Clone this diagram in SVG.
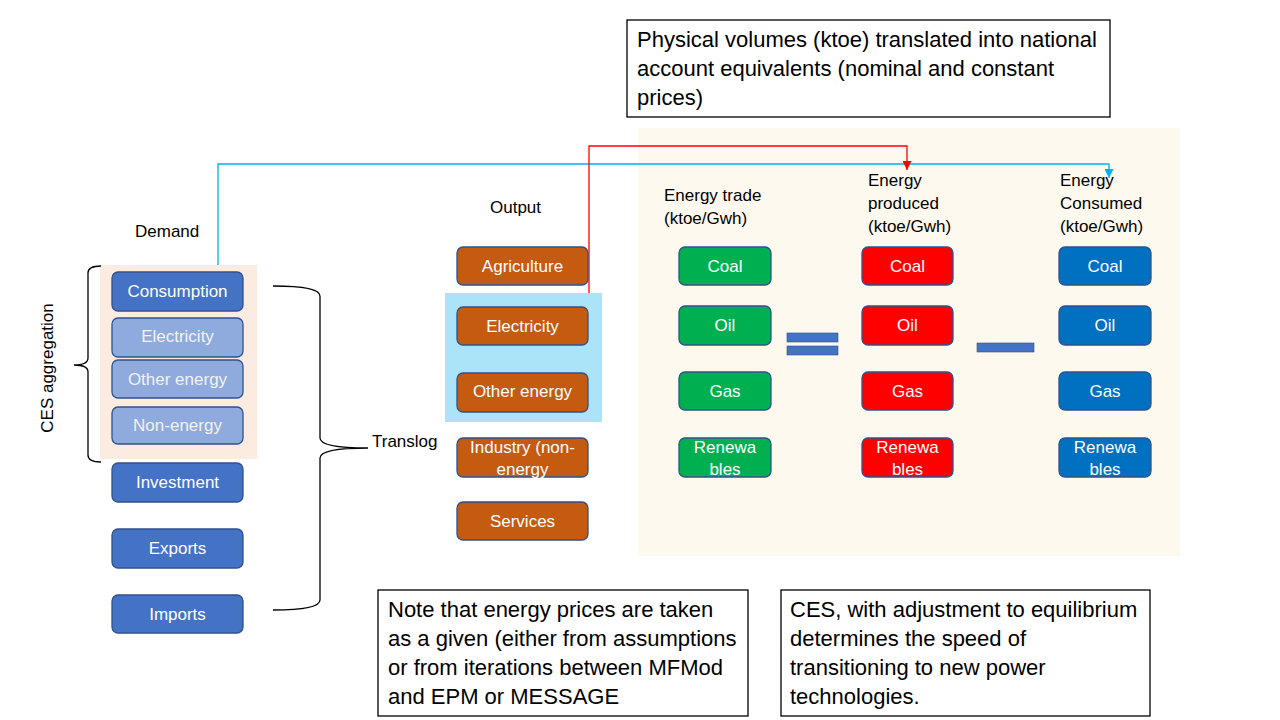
<svg xmlns="http://www.w3.org/2000/svg" width="1280" height="720" viewBox="0 0 1280 720">
<defs>
<style>
text{font-family:"Liberation Sans",Arial,sans-serif;}
.lbl{font-size:17px;fill:#000;}
.big{font-size:22px;fill:#000;}
.nt{font-size:17px;fill:#fff;text-anchor:middle;}
.ntl{font-size:17px;fill:#F2F2F2;text-anchor:middle;}
.box{stroke:#2F528F;stroke-width:1.3;}
.dk{fill:#4472C4;}
.lt{fill:#8FAADC;}
.or{fill:#C55A11;}
.gr{fill:#00B050;}
.rd{fill:#FF0000;}
.bl{fill:#0070C0;}
.brace{fill:none;stroke:#000;stroke-width:1.3;}
</style>
<marker id="arrR" viewBox="0 0 10 10" refX="5" refY="10" markerWidth="9" markerHeight="9" markerUnits="userSpaceOnUse">
<path d="M0,0 L10,0 L5,10 z" fill="#FF0000"/>
</marker>
<marker id="arrB" viewBox="0 0 10 10" refX="5" refY="10" markerWidth="9" markerHeight="9" markerUnits="userSpaceOnUse">
<path d="M0,0 L10,0 L5,10 z" fill="#00B0F0"/>
</marker>
</defs>
<rect width="1280" height="720" fill="#fff"/>

<!-- backgrounds -->
<rect id="energy-bg" x="638" y="128" width="542" height="428" fill="#FEF9EE"/>
<rect id="ces-bg" x="100" y="265" width="157" height="194" fill="#FCEBE0"/>
<rect id="energy-sectors-bg" x="445" y="293" width="157" height="129" fill="#ABE3F9"/>

<g id="connectors" fill="none" stroke-width="1.3">
<polyline points="218,265 218,164 1109,164 1109,178" stroke="#00B0F0" marker-end="url(#arrB)"/>
<polyline points="589,293 589,146 907,146 907,170" stroke="#FF0000" marker-end="url(#arrR)"/>
</g>

<g id="top-note">
<rect x="627" y="20" width="483" height="97" fill="#fff" stroke="#000" stroke-width="1.3"/>
<text class="big" x="637" y="47">Physical volumes (ktoe) translated into national</text>
<text class="big" x="637" y="76">account equivalents (nominal and constant</text>
<text class="big" x="637" y="105">prices)</text>
</g>

<g id="demand-label"><text class="lbl" x="135" y="237">Demand</text></g>
<g id="ces-label"><text class="lbl" transform="translate(53,368) rotate(-90)" text-anchor="middle">CES aggregation</text></g>
<g id="ces-brace"><path class="brace" d="M101,266 Q88,266 88,273 L88,358 Q88,365 74,365 Q88,365 88,372 L88,455 Q88,462 101,462"/></g>
<g id="translog-brace"><path class="brace" d="M273,286 Q320,286 320,296 L320,438 Q320,448 368,448 Q320,448 320,458 L320,600 Q320,610 273,610"/></g>
<g id="translog-label"><text class="lbl" x="372" y="447">Translog</text></g>

<g id="consumption"><rect class="box dk" x="112" y="272" width="131" height="39" rx="6"/><text class="nt" x="177.5" y="297">Consumption</text></g>
<g id="d-electricity"><rect class="box lt" x="112" y="318" width="131" height="39" rx="6"/><text class="ntl" x="177.5" y="342">Electricity</text></g>
<g id="d-other-energy"><rect class="box lt" x="112" y="360" width="131" height="38" rx="6"/><text class="ntl" x="177.5" y="385">Other energy</text></g>
<g id="d-non-energy"><rect class="box lt" x="112" y="407" width="131" height="37" rx="6"/><text class="ntl" x="177.5" y="431">Non-energy</text></g>
<g id="investment"><rect class="box dk" x="112" y="463" width="131" height="39" rx="6"/><text class="nt" x="177.5" y="488">Investment</text></g>
<g id="exports"><rect class="box dk" x="112" y="529" width="131" height="39" rx="6"/><text class="nt" x="177.5" y="554">Exports</text></g>
<g id="imports"><rect class="box dk" x="112" y="595" width="131" height="38" rx="6"/><text class="nt" x="177.5" y="620">Imports</text></g>

<g id="output-label"><text class="lbl" x="490" y="213">Output</text></g>
<g id="agriculture"><rect class="box or" x="457" y="247" width="131" height="38" rx="6"/><text class="nt" x="522.5" y="272">Agriculture</text></g>
<g id="o-electricity"><rect class="box or" x="457" y="307" width="131" height="38" rx="6"/><text class="nt" x="522.5" y="332">Electricity</text></g>
<g id="o-other-energy"><rect class="box or" x="457" y="373" width="131" height="39" rx="6"/><text class="nt" x="522.5" y="397">Other energy</text></g>
<g id="industry"><rect class="box or" x="457" y="438" width="131" height="39" rx="6"/><text class="nt" x="522.5" y="453">Industry (non-</text><text class="nt" x="522.5" y="475">energy</text></g>
<g id="services"><rect class="box or" x="457" y="502" width="131" height="38" rx="6"/><text class="nt" x="522.5" y="527">Services</text></g>

<g id="trade-label"><text class="lbl" x="664" y="201">Energy trade</text><text class="lbl" x="664" y="224">(ktoe/Gwh)</text></g>
<g id="produced-label"><text class="lbl" x="868" y="186">Energy</text><text class="lbl" x="868" y="209">produced</text><text class="lbl" x="868" y="232">(ktoe/Gwh)</text></g>
<g id="consumed-label"><text class="lbl" x="1060" y="186">Energy</text><text class="lbl" x="1060" y="209">Consumed</text><text class="lbl" x="1060" y="232">(ktoe/Gwh)</text></g>

<g id="t-coal"><rect class="box gr" x="679" y="247" width="92" height="38" rx="6"/><text class="nt" x="725" y="272">Coal</text></g>
<g id="t-oil"><rect class="box gr" x="679" y="306" width="92" height="39" rx="6"/><text class="nt" x="725" y="331">Oil</text></g>
<g id="t-gas"><rect class="box gr" x="679" y="372" width="92" height="38" rx="6"/><text class="nt" x="725" y="397">Gas</text></g>
<g id="t-renew"><rect class="box gr" x="679" y="438" width="92" height="39" rx="6"/><text class="nt" x="725" y="453">Renewa</text><text class="nt" x="725" y="475">bles</text></g>

<g id="p-coal"><rect class="box rd" x="862" y="247" width="91" height="38" rx="6"/><text class="nt" x="907.5" y="272">Coal</text></g>
<g id="p-oil"><rect class="box rd" x="862" y="306" width="91" height="39" rx="6"/><text class="nt" x="907.5" y="331">Oil</text></g>
<g id="p-gas"><rect class="box rd" x="862" y="372" width="91" height="38" rx="6"/><text class="nt" x="907.5" y="397">Gas</text></g>
<g id="p-renew"><rect class="box rd" x="862" y="438" width="91" height="39" rx="6"/><text class="nt" x="907.5" y="453">Renewa</text><text class="nt" x="907.5" y="475">bles</text></g>

<g id="c-coal"><rect class="box bl" x="1059" y="247" width="92" height="38" rx="6"/><text class="nt" x="1105" y="272">Coal</text></g>
<g id="c-oil"><rect class="box bl" x="1059" y="306" width="92" height="39" rx="6"/><text class="nt" x="1105" y="331">Oil</text></g>
<g id="c-gas"><rect class="box bl" x="1059" y="372" width="92" height="38" rx="6"/><text class="nt" x="1105" y="397">Gas</text></g>
<g id="c-renew"><rect class="box bl" x="1059" y="438" width="92" height="39" rx="6"/><text class="nt" x="1105" y="453">Renewa</text><text class="nt" x="1105" y="475">bles</text></g>

<g id="equals-sign">
<rect x="787" y="333" width="51" height="9" fill="#4472C4" stroke="#2F528F" stroke-width="0.6"/>
<rect x="787" y="346" width="51" height="9" fill="#4472C4" stroke="#2F528F" stroke-width="0.6"/>
</g>
<g id="minus-sign">
<rect x="977" y="343" width="57" height="9" fill="#4472C4" stroke="#2F528F" stroke-width="0.6"/>
</g>

<g id="note-prices">
<rect x="378" y="590" width="370" height="126" fill="#fff" stroke="#000" stroke-width="1.3"/>
<text class="big" x="388" y="617">Note that energy prices are taken</text>
<text class="big" x="388" y="646">as a given (either from assumptions</text>
<text class="big" x="388" y="675">or from iterations between MFMod</text>
<text class="big" x="388" y="704">and EPM or MESSAGE</text>
</g>
<g id="note-ces">
<rect x="781" y="590" width="369" height="126" fill="#fff" stroke="#000" stroke-width="1.3"/>
<text class="big" x="790" y="617">CES, with adjustment to equilibrium</text>
<text class="big" x="790" y="646">determines the speed of</text>
<text class="big" x="790" y="675">transitioning to new power</text>
<text class="big" x="790" y="704">technologies.</text>
</g>
</svg>
